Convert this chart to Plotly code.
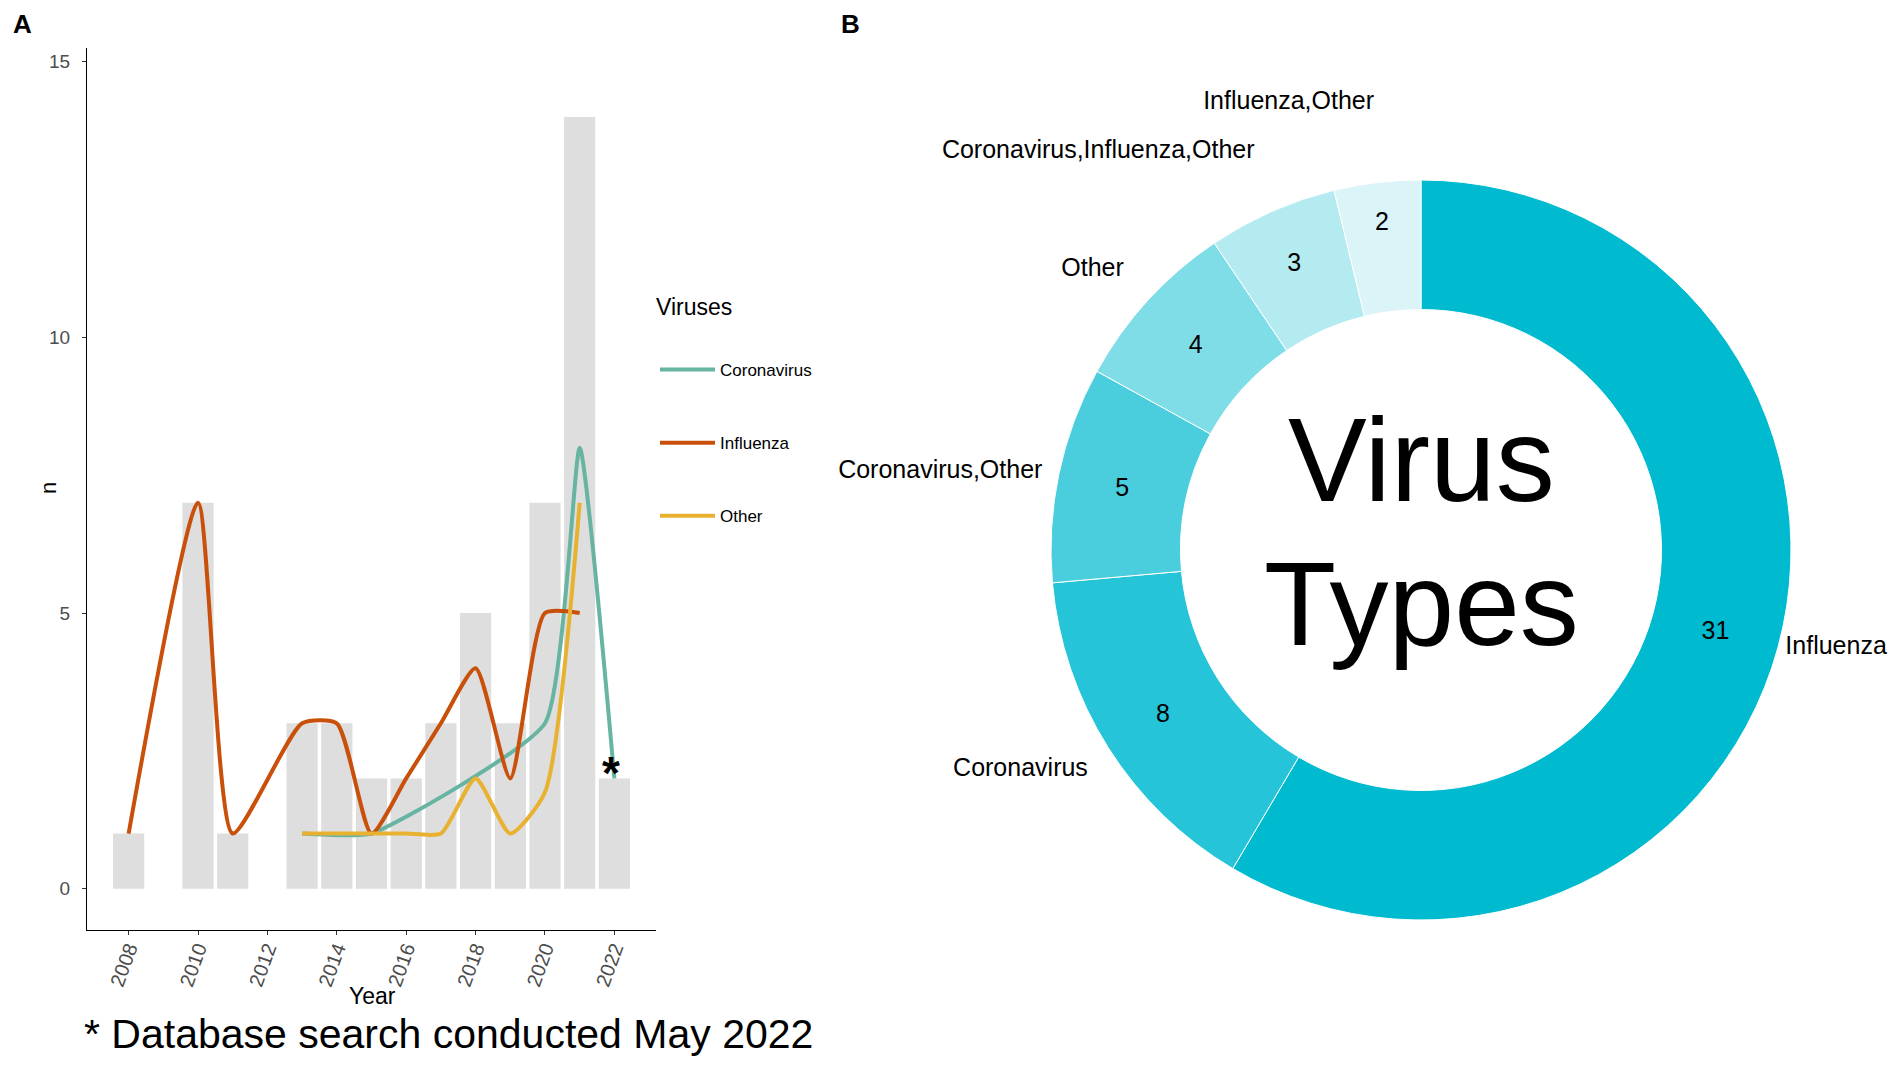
import plotly.graph_objects as go

# ---------------------------------------------------------
# Data
# ---------------------------------------------------------
# Panel A: publications per year (bars) and per virus (lines)
bar_years = [2008, 2010, 2011, 2013, 2014, 2015, 2016, 2017, 2018, 2019, 2020, 2021, 2022]
bar_counts = [1, 7, 1, 3, 3, 2, 2, 3, 5, 3, 7, 14, 2]

flu_years = [2008, 2010, 2011, 2013, 2014, 2015, 2016, 2017, 2018, 2019, 2020, 2021]
flu_counts = [1, 7, 1, 3, 3, 1, 2, 3, 4, 2, 5, 5]

cov_years = [2013, 2015, 2020, 2021, 2022]
cov_counts = [1, 1, 3, 8, 2]

oth_years = [2013, 2015, 2016, 2017, 2018, 2019, 2020, 2021]
oth_counts = [1, 1, 1, 1, 2, 1, 1.75, 7]

x_ticks = [2008, 2010, 2012, 2014, 2016, 2018, 2020, 2022]
y_ticks = [0, 5, 10, 15]

# Panel B: virus type combinations
type_labels = ["Influenza", "Coronavirus", "Coronavirus,Other", "Other",
               "Coronavirus,Influenza,Other", "Influenza,Other"]
type_counts = [31, 8, 5, 4, 3, 2]

# ---------------------------------------------------------
# Style
# ---------------------------------------------------------
# page body keeps its 8px margin, so the figure is a bit smaller than the window
PAGE_W, PAGE_H, BODY = 1902, 1067, 8
W, H = PAGE_W - 2 * BODY, PAGE_H - 2 * BODY
FONT = "Liberation Sans, Arial, sans-serif"
COL_COV = "#67B4A2"
COL_FLU = "#C9500B"
COL_OTH = "#E8B130"
COL_BAR = "#DEDEDE"
PIE_COLORS = ["#00BAD0", "#26C4D8", "#4ACEDD", "#7FDDE8", "#B3EBF0", "#DBF4F7"]
LABEL_PULL = [0, 0.117, 0.095, 0.144, 0.188, 0.226]   # push outer labels out a bit


def px_x(x):
    # window pixel -> paper fraction
    return (x - BODY) / W


def px_y(y):
    return (H - (y - BODY)) / H


fig = go.Figure()

# ---- Panel A ----
fig.add_trace(go.Bar(
    x=bar_years, y=bar_counts, width=0.9,
    marker=dict(color=COL_BAR, line=dict(width=0)),
    showlegend=False, hoverinfo="x+y",
))

for name, xs, ys, col, sm in [("Coronavirus", cov_years, cov_counts, COL_COV, 0.45),
                              ("Influenza", flu_years, flu_counts, COL_FLU, 0.6),
                              ("Other", oth_years, oth_counts, COL_OTH, 0.6)]:
    fig.add_trace(go.Scatter(
        x=xs, y=ys, name=name, mode="lines", legendgroup=name,
        line=dict(color=col, width=4, shape="spline", smoothing=sm),
    ))

fig.update_xaxes(
    domain=[px_x(87), px_x(656)], range=[2006.8, 2023.2],
    tickvals=x_ticks, tickangle=-70, automargin=False, ticklabelstandoff=-6,
    tickfont=dict(size=20, color="#4D4D4D", family=FONT),
    showline=True, linecolor="black", linewidth=1,
    ticks="outside", ticklen=4, tickcolor="#333333",
    showgrid=False, zeroline=False,
)
fig.update_yaxes(
    domain=[px_y(930), px_y(48)], range=[-0.75, 15.25],
    tickvals=y_ticks, automargin=False, ticklabelstandoff=8,
    tickfont=dict(size=19, color="#4D4D4D", family=FONT),
    showline=True, linecolor="black", linewidth=1,
    ticks="outside", ticklen=4, tickcolor="#333333",
    showgrid=False, zeroline=False,
)

# ---- Panel B ----
cx, cy, r = 1421, 550, 370
fig.add_trace(go.Pie(
    labels=type_labels, values=type_counts, sort=False, direction="clockwise",
    rotation=0, hole=0.65, automargin=False,
    marker=dict(colors=PIE_COLORS, line=dict(color="white", width=1)),
    textinfo="value", textposition="inside", insidetextorientation="horizontal",
    textfont=dict(size=25, color="black", family=FONT),
    domain=dict(x=[px_x(cx - r), px_x(cx + r)], y=[px_y(cy + r), px_y(cy - r)]),
    showlegend=False,
))
# invisible ring only used to place the category names outside the donut
cx2 = cx + 12
r2 = 358 * (1 + max(LABEL_PULL))
fig.add_trace(go.Pie(
    labels=type_labels, values=type_counts, sort=False, direction="clockwise",
    rotation=0, hole=0.95, pull=LABEL_PULL, automargin=False,
    marker=dict(colors=["rgba(0,0,0,0)"] * len(type_counts), line=dict(width=0)),
    textinfo="label", textposition="outside",
    outsidetextfont=dict(size=25, color="black", family=FONT),
    domain=dict(x=[px_x(cx2 - r2), px_x(cx2 + r2)], y=[px_y(cy + r2), px_y(cy - r2)]),
    showlegend=False, hoverinfo="skip",
))


def note(text, x, y, size, **kw):
    d = dict(text=text, x=px_x(x), y=px_y(y), xref="paper", yref="paper",
             showarrow=False, xanchor="center", yanchor="middle",
             font=dict(size=size, color="black", family=FONT))
    d.update(kw)
    return d


annotations = [
    note("Virus", 1421, 460, 118),
    note("Types", 1421, 604, 118),
    note("Year", 372, 996, 23),
    note("n", 48, 488, 22, textangle=-90),
    note("Viruses", 654, 307, 23, xanchor="left"),
    note("* Database search conducted May 2022", 82, 1034, 41, xanchor="left"),
    note("<b>A</b>", 22, 24, 26),
    note("<b>B</b>", 850, 24, 26),
    dict(text="<b>*</b>", x=2021.9, y=2.1, xref="x", yref="y",
         showarrow=False, xanchor="center", yanchor="middle",
         font=dict(size=46, color="black", family=FONT)),
]

fig.update_layout(
    width=W, height=H, autosize=False,
    margin=dict(l=0, r=0, t=0, b=0, autoexpand=False),
    paper_bgcolor="white", plot_bgcolor="white",
    font=dict(family=FONT, color="black"),
    annotations=annotations,
    legend=dict(
        font=dict(size=17, family=FONT),
        x=px_x(655), y=px_y(352), xanchor="left", yanchor="top",
        itemwidth=55, tracegroupgap=48, bgcolor="rgba(0,0,0,0)",
    ),
)

fig.write_html("out.html")
